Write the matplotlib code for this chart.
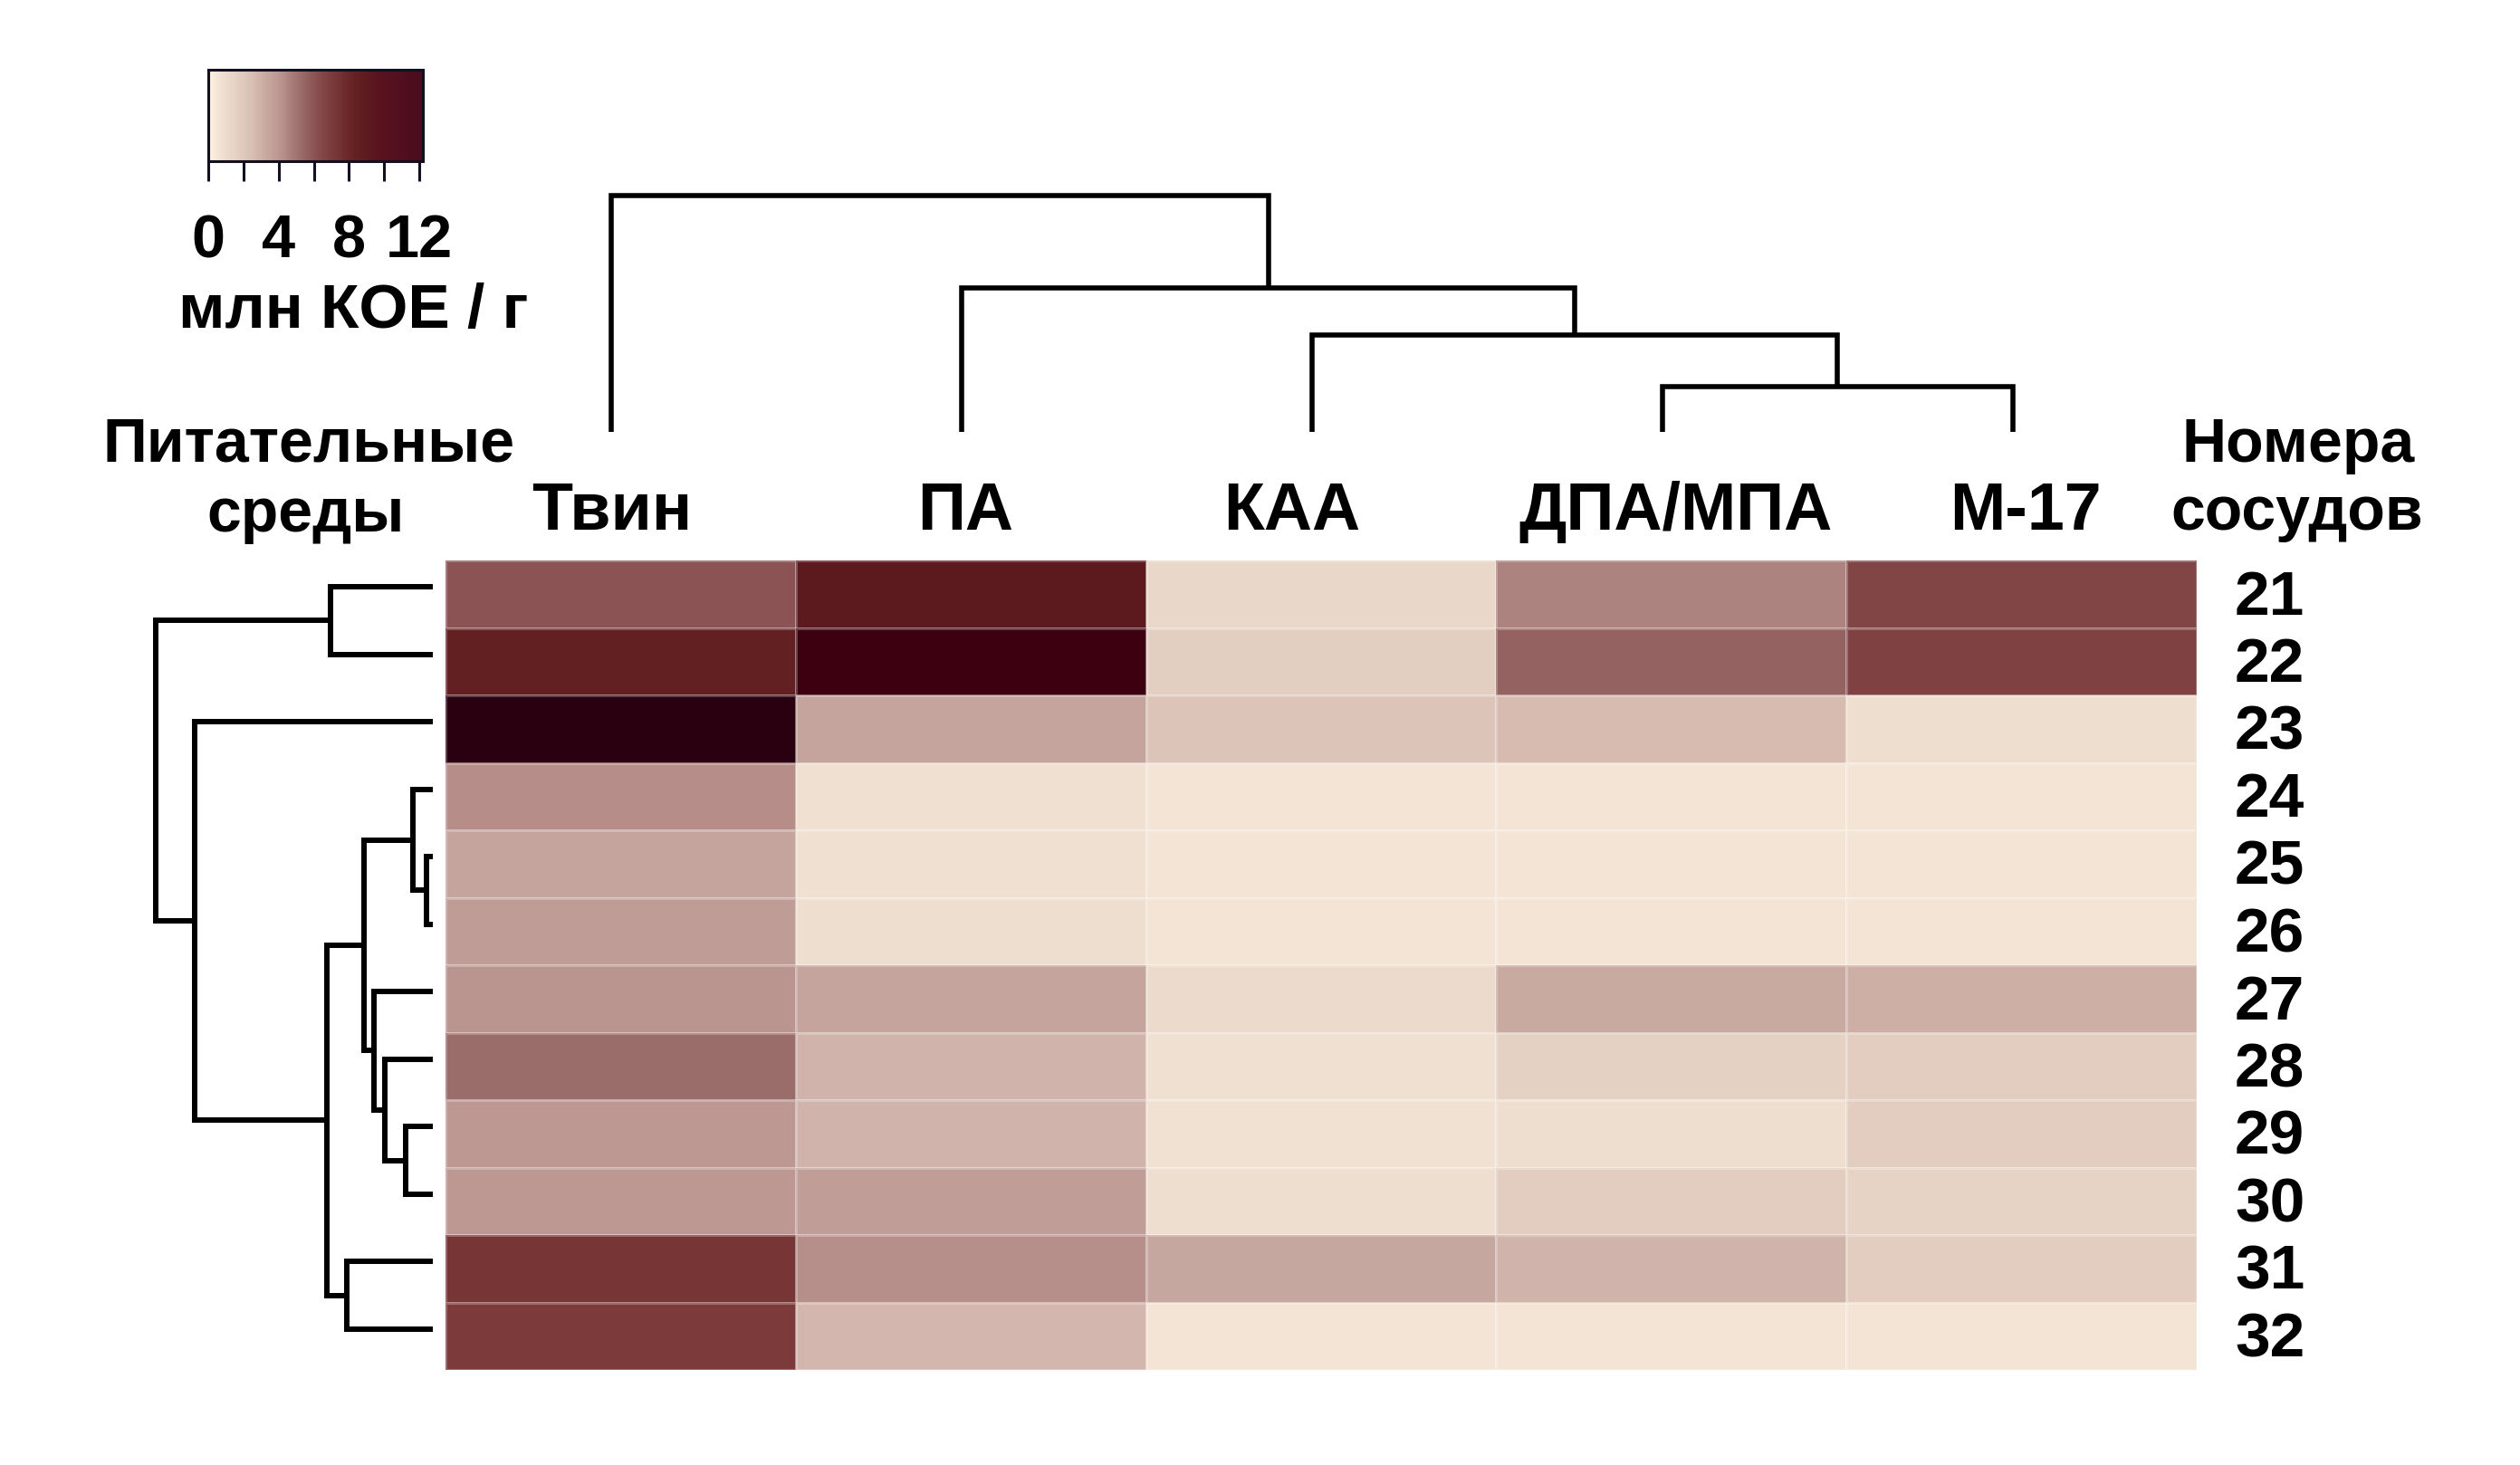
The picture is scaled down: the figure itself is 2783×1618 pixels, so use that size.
import numpy as np
import matplotlib
matplotlib.use("Agg")
import matplotlib.pyplot as plt
from matplotlib.colors import LinearSegmentedColormap, Normalize
from matplotlib import transforms

plt.rcParams['font.family'] = ['Liberation Sans', 'DejaVu Sans']
plt.rcParams['font.weight'] = 'bold'

# nutrient media (columns) and vessel numbers (rows)
media = ["Твин", "ПА", "КАА", "ДПА/МПА", "М-17"]
vessels = ["21", "22", "23", "24", "25", "26", "27", "28", "29", "30", "31", "32"]

# млн КОЕ / г
tween = [6.0, 8.5, 16.0, 4.3, 3.5, 3.8, 4.0, 5.3, 3.9, 3.9, 7.3, 7.0]
pa = [9.0, 14.0, 3.5, 0.8, 0.8, 0.9, 3.5, 2.9, 2.9, 3.7, 4.2, 2.8]
kaa = [1.3, 1.7, 2.2, 0.6, 0.6, 0.6, 1.1, 0.8, 0.7, 0.9, 3.4, 0.6]
dpa_mpa = [4.6, 5.6, 2.6, 0.6, 0.6, 0.6, 3.3, 1.6, 0.9, 1.8, 2.9, 0.6]
m17 = [6.6, 6.8, 0.9, 0.6, 0.6, 0.6, 3.1, 1.8, 1.8, 1.5, 1.8, 0.6]

# dendrogram merges: (child a, child b, height); new clusters numbered after leaves
row_links = [(4, 5, 7), (3, 12, 22), (8, 9, 30), (7, 14, 53), (6, 15, 65),
             (13, 16, 76), (10, 11, 95), (0, 1, 113), (17, 18, 117),
             (2, 20, 263), (19, 21, 306)]
col_links = [(3, 4, 50), (2, 5, 107), (1, 6, 160), (0, 7, 262)]

cbar_ticks = [0, 2, 4, 6, 8, 10, 12]
cbar_labels = ["0", "", "4", "", "8", "", "12"]

# horizontal nudge of column captions, in pixels
label_nudge = [0, 4, -22, 15, 14]

vmax = 16.0
anchors = [(0.0, "#fff3e3"), (0.6, "#f2e3d4"), (1.5, "#e6d3c5"), (2.5, "#d8bdb3"),
           (3.5, "#c4a49c"), (4.3, "#b58c88"), (5.0, "#a07572"), (6.0, "#8b5455"),
           (7.0, "#7c3b3c"), (8.0, "#6a2628"), (9.0, "#5c1a1f"), (10.0, "#58121f"),
           (12.0, "#4a0c1e"), (14.0, "#3c0010"), (16.0, "#2a0010")]
cmap = LinearSegmentedColormap.from_list("koe", [(v / vmax, c) for v, c in anchors])

data = np.column_stack([tween, pa, kaa, dpa_mpa, m17])

W, H = 2783, 1618


def box(x0, y0, x1, y1):
    return [x0 / W, 1 - y1 / H, (x1 - x0) / W, (y1 - y0) / H]


def draw_dendro(ax, links, n, side, lw):
    pos = {i: i + 0.5 for i in range(n)}
    hgt = {i: 0.0 for i in range(n)}
    for k, (a, b, h) in enumerate(links):
        p = [pos[a], pos[a], pos[b], pos[b]]
        q = [hgt[a], h, h, hgt[b]]
        if side == "left":
            ax.plot(q, p, color="black", lw=lw, clip_on=False,
                    solid_joinstyle="miter", solid_capstyle="butt")
        else:
            ax.plot(p, q, color="black", lw=lw, clip_on=False,
                    solid_joinstyle="miter", solid_capstyle="butt")
        pos[n + k] = (pos[a] + pos[b]) / 2
        hgt[n + k] = h


fig = plt.figure(figsize=(W / 100, H / 100), dpi=100)

# heatmap
ax = fig.add_axes(box(492, 619, 2426, 1513))
mesh = ax.pcolormesh(data, cmap=cmap, norm=Normalize(0, vmax),
                     edgecolors=(1, 1, 1, 0.25), linewidth=1)
ax.set_xlim(0, len(media))
ax.set_ylim(len(vessels), 0)
ax.set_xticks([])
ax.set_yticks([])
for s in ax.spines.values():
    s.set_visible(False)

tr_rows = transforms.blended_transform_factory(fig.transFigure, ax.transData)
for i, v in enumerate(vessels):
    ax.text(2468 / W, i + 0.56, v, transform=tr_rows, ha="left", va="center",
            fontsize=50)

# row dendrogram
axr = fig.add_axes(box(172, 611, 478, 1505))
draw_dendro(axr, row_links, len(vessels), "left", 4.3)
axr.set_xlim(306, 0)
axr.set_ylim(len(vessels), 0)
axr.axis("off")

# column dendrogram
axc = fig.add_axes(box(482, 216, 2416, 477))
draw_dendro(axc, col_links, len(media), "top", 4.0)
axc.set_xlim(0, len(media))
axc.set_ylim(0, 262)
axc.axis("off")

for i, m in enumerate(media):
    tr = transforms.offset_copy(
        transforms.blended_transform_factory(axc.transData, fig.transFigure),
        fig=fig, x=label_nudge[i], y=0, units="dots")
    axc.text(i + 0.5, 1 - 585 / H, m, transform=tr, ha="center",
             va="baseline", fontsize=53)

# colour key
cax = fig.add_axes(box(230, 77, 467, 178))
cb = fig.colorbar(mesh, cax=cax, orientation="horizontal",
                  boundaries=np.linspace(0, 12.2, 245))
cb.set_ticks(cbar_ticks)
cb.set_ticklabels(cbar_labels)
cb.outline.set_linewidth(2.2)
cb.outline.set_edgecolor("#101020")
cax.tick_params(axis="x", length=16, width=2.2, pad=26, labelsize=48,
                color="#101020")

fig.text(390 / W, 1 - 362 / H, "млн КОЕ / г", ha="center", va="baseline",
         fontsize=50)
fig.text(341 / W, 1 - 510 / H, "Питательные", ha="center", va="baseline",
         fontsize=49)
fig.text(338 / W, 1 - 587 / H, "среды", ha="center", va="baseline",
         fontsize=49)
fig.text(2538 / W, 1 - 510 / H, "Номера", ha="center", va="baseline",
         fontsize=49)
fig.text(2537 / W, 1 - 585 / H, "сосудов", ha="center", va="baseline",
         fontsize=49)

fig.savefig("out.png", dpi=100, facecolor="white")
